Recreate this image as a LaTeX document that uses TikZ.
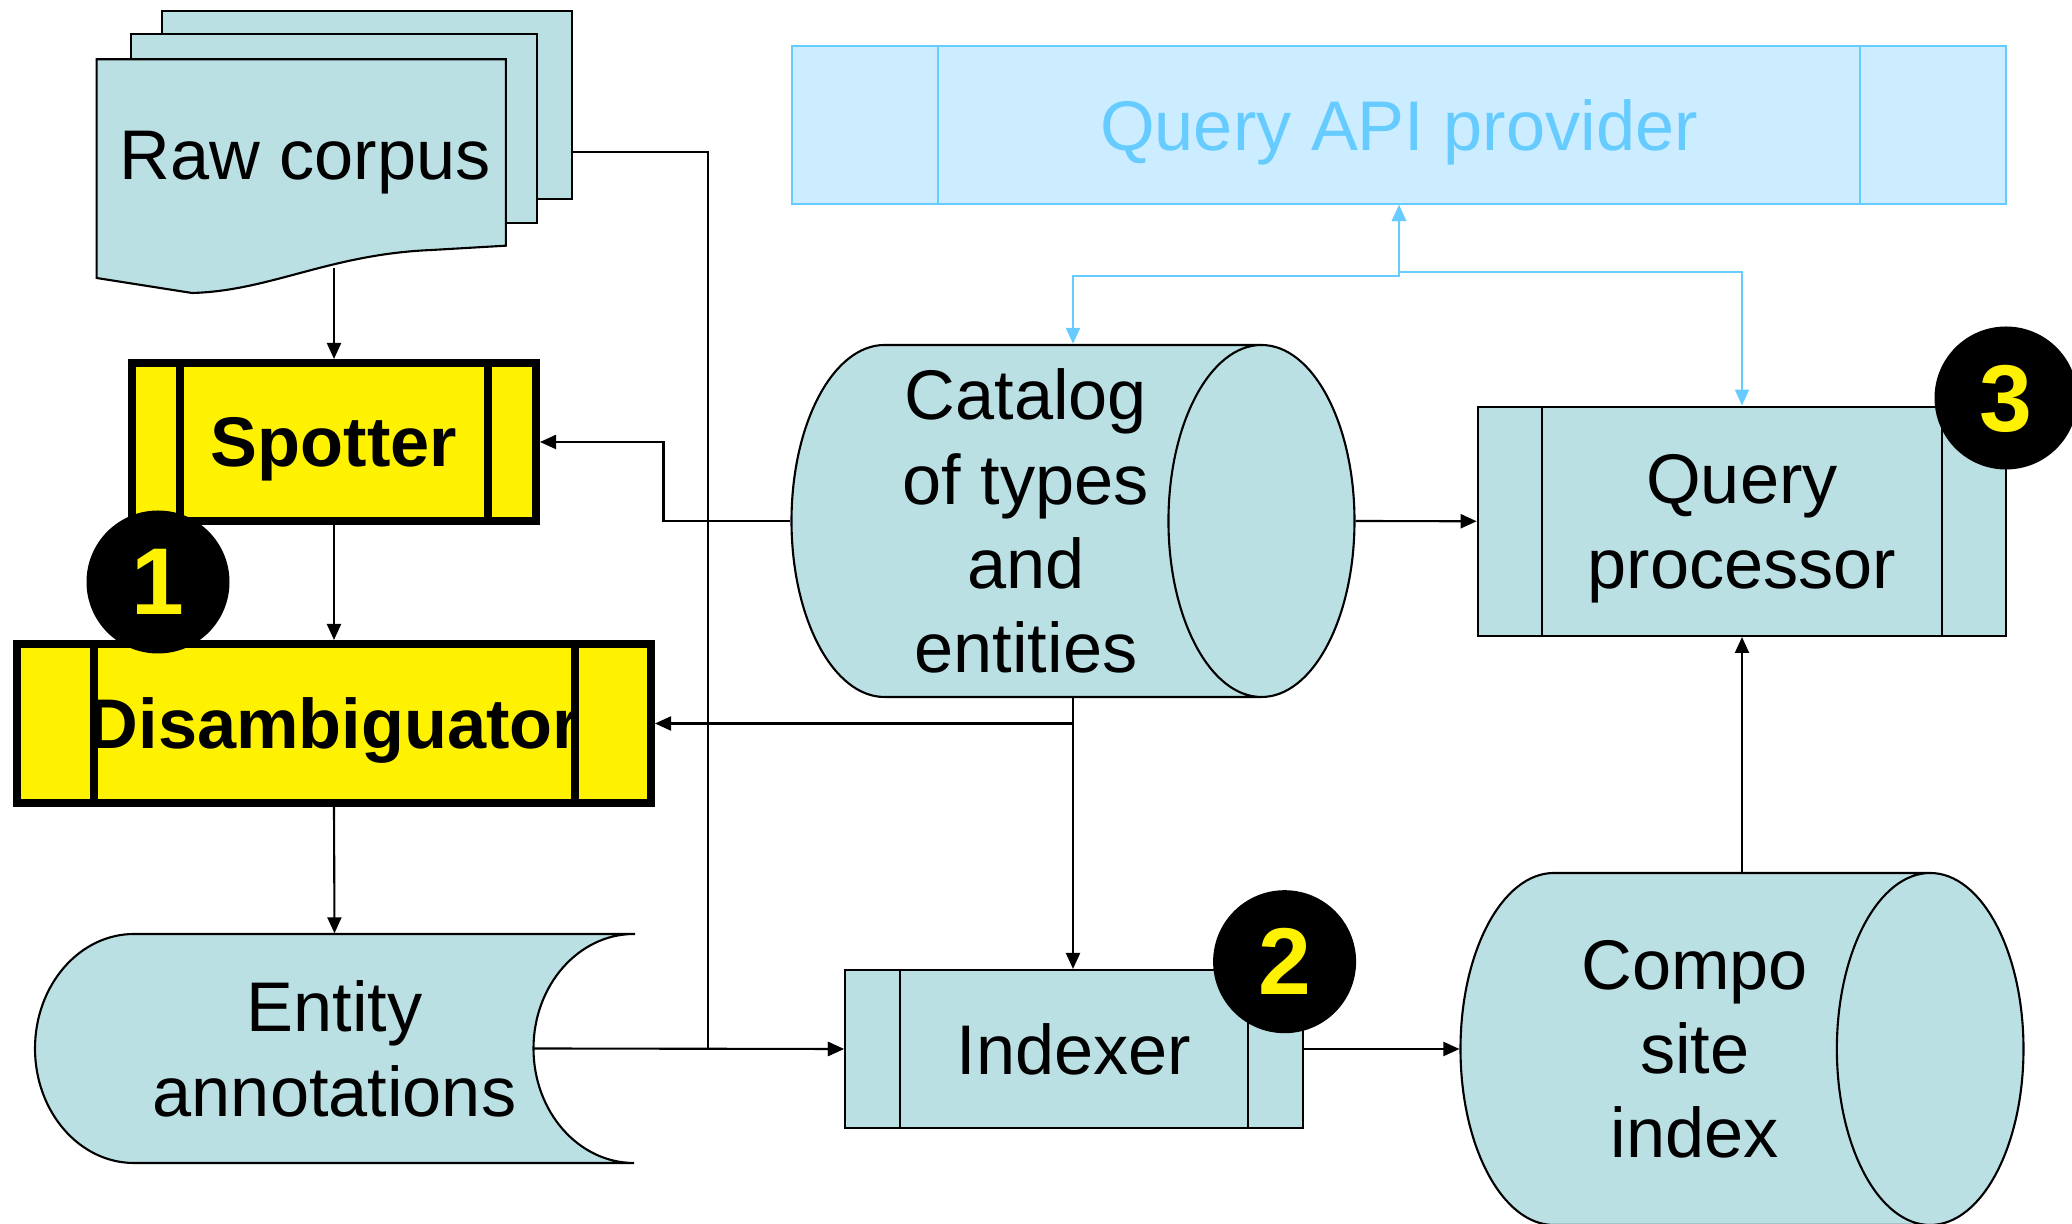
\documentclass[tikz,border=0pt]{standalone}
\usepackage{fontspec}
\setmainfont{Liberation Sans}
\usetikzlibrary{shapes.geometric,arrows.meta}

\definecolor{boxfill}{RGB}{187,224,227}
\definecolor{apifill}{RGB}{204,236,255}
\definecolor{apiline}{RGB}{102,204,255}

\tikzset{
    every node/.style={font=\fontsize{20}{24}\selectfont, align=center, inner sep=0pt, text depth=0pt},
    >={Triangle[length=0.16cm,width=0.14cm]},
    flow/.style={line width=0.6pt, ->},
    apiflow/.style={line width=0.6pt, apiline, <->},
    procbox/.style={draw, rectangle, line width=0.6pt, fill=boxfill,
        path picture={
            \draw ([xshift=#1]path picture bounding box.north west) -- ([xshift=#1]path picture bounding box.south west)
                  ([xshift=-#1]path picture bounding box.north east) -- ([xshift=-#1]path picture bounding box.south east);
        }},
    hotbox/.style={procbox=#1, fill=yellow, line width=0.08cm, font=\fontsize{20}{24}\selectfont\bfseries},
    store/.style={draw, line width=0.6pt, fill=boxfill},
    drum/.style={cylinder, draw, line width=0.6pt, fill=boxfill, aspect=#1, anchor=shape center,
        minimum width=3.52cm, minimum height=5.63cm},
    badge/.style={circle, fill=black, minimum size=1.43cm, text=yellow, font=\fontsize{27}{27}\selectfont\bfseries},
}

\begin{document}
\begin{tikzpicture}
        \useasboundingbox (0,0) rectangle (20.72,12.24);
        \coordinate (corpus out) at (5.72,10.72);
        \coordinate (corpus foot) at (3.34,9.56);
        \coordinate (annot out) at (5.335,1.755);

        % Raw corpus.
        \node[store, minimum width=4.103cm, minimum height=1.88cm] (page3) at (3.6685,11.19) {};
        \node[store, minimum width=4.064cm, minimum height=1.89cm] (page2) at (3.338,10.955) {};
        \draw[store] (0.966,11.647) -- (5.058,11.647) -- (5.058,9.783) -- (4.32,9.74)
            .. controls (3.3,9.70) and (2.7,9.33) .. (1.92,9.31) -- (0.966,9.46) -- cycle;
        \node (corpus) at (3.05,10.69) {Raw corpus};

        % Spotter, disambiguator.
        \node[hotbox=0.48cm, minimum width=4.04cm, minimum height=1.58cm] (spotter) at (3.34,7.82) {Spotter};
        \node[hotbox=0.765cm, minimum width=6.34cm, minimum height=1.59cm] (disamb) at (3.34,5.005) {Disambiguator};

        % Entity annotations.
        \draw[store] (6.34,2.90) -- (1.34,2.90) arc[start angle=90, end angle=270, x radius=0.99, y radius=1.145]
            -- (6.34,0.61) arc[start angle=270, end angle=90, x radius=1.005, y radius=1.145] -- cycle;
        \node[minimum width=5.99cm, minimum height=2.29cm] (annot) at (3.345,1.755) {Entity\\annotations};

        % Catalog, indexer, index.
        \node[drum=0.612] (catalog) at (10.73,7.03) {Catalog\\of types\\and\\entities};
        \node[procbox=0.55cm, minimum width=4.577cm, minimum height=1.58cm] (indexer) at (10.737,1.75) {Indexer};
        \node[drum=0.857] (composite) at (17.42,1.75) {Compo\\site\\index};

        % Query side.
        \node[procbox=0.64cm, minimum width=5.285cm, minimum height=2.293cm] (qp) at (17.42,7.027) {Query\\processor};
        \node[procbox=1.465cm, draw=apiline, fill=apifill, text=apiline, minimum width=12.145cm, minimum height=1.58cm] (api) at (13.99,10.99) {Query API provider};

        % Flows.
        \draw[flow] (corpus foot) -- (spotter.north);
        \draw[flow] (spotter.south) -- (disamb.north);
        \draw[flow] (disamb.south) -- (annot.north);
        \draw[flow] (corpus out) -- ++(1.36,0) |- (indexer.west);
        \draw[flow] (annot out) -- (indexer.west);
        \draw[flow] (catalog.west) -- ++(-1.27,0) |- (spotter.east);
        \draw[flow] (catalog.shape center |- catalog.south) |- (disamb.east);
        \draw[flow] (catalog.shape center |- catalog.south) -- (catalog.shape center |- indexer.north);
        \draw[flow] (catalog.east) -- (qp.west);
        \draw[flow] (indexer.east) -- (composite.west);
        \draw[flow] (composite.shape center |- composite.north) -- (qp.south);
        \draw[apiflow] (api.south) -- ++(0,-0.71) -| (catalog.shape center |- catalog.north);
        \draw[apiflow] (api.south) -- ++(0,-0.67) -| (qp.north);

        % Steps.
        \node[badge] (n1) at (1.58,6.42) {1};
        \node[badge] (n2) at (12.846,2.623) {2};
        \node[badge] (n3) at (20.06,8.26) {3};
\end{tikzpicture}
\end{document}
